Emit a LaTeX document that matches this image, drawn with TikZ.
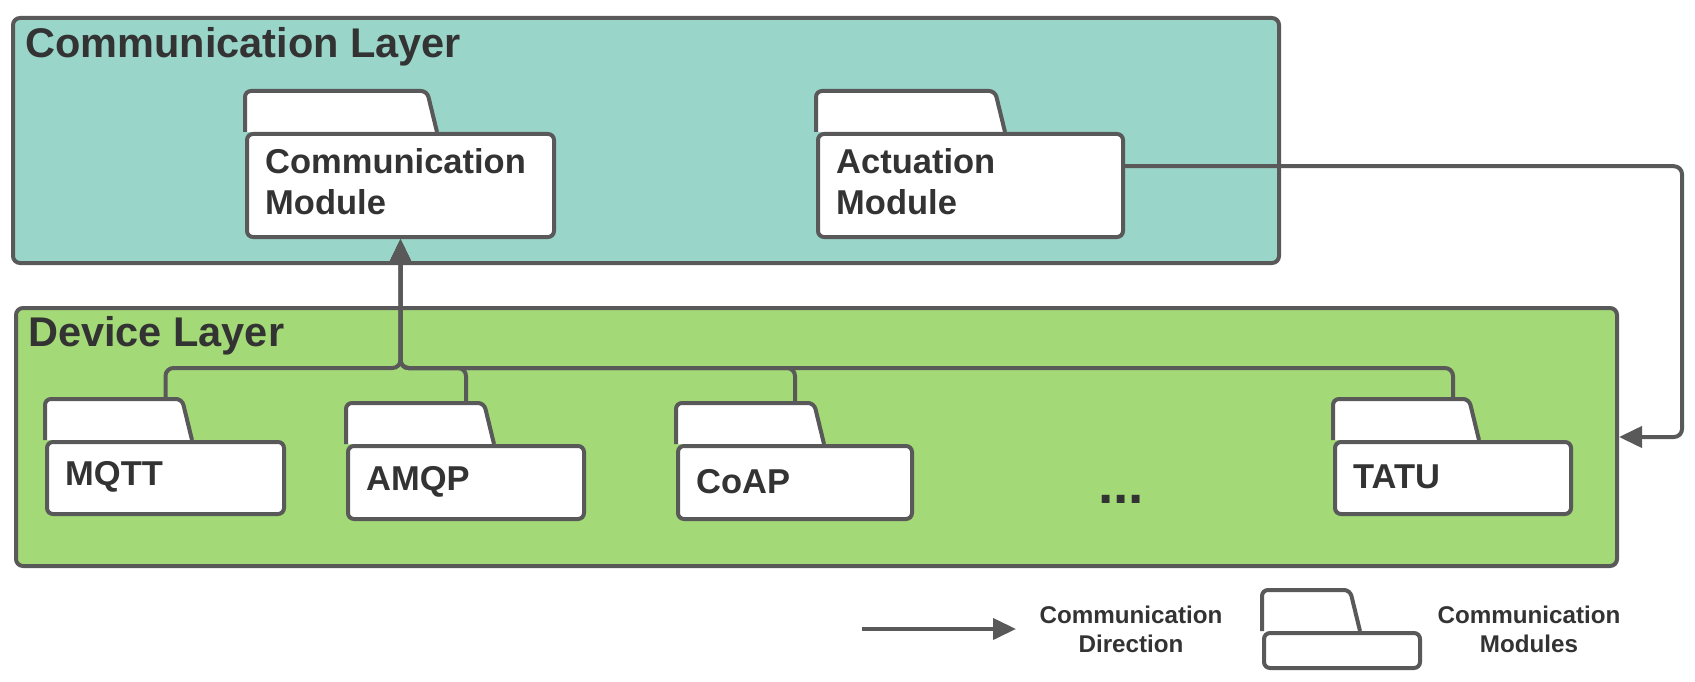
\documentclass[tikz,border=0pt]{standalone}
\usepackage{fontspec}
\setmainfont{Liberation Sans}
\usetikzlibrary{arrows.meta,calc}
\definecolor{lc}{HTML}{595959}
\definecolor{tc}{HTML}{333333}
\definecolor{commfill}{HTML}{9AD5CA}
\definecolor{devfill}{HTML}{A3D977}
\tikzset{
  layerbox/.style={draw=lc, line width=4pt, rounded corners=7pt, inner sep=0pt, anchor=north west},
  tabst/.style={draw=lc, fill=white, line width=4pt, rounded corners=6pt},
  fbody/.style={draw=lc, fill=white, line width=4pt, rounded corners=6pt, inner sep=0pt, anchor=north west},
  modtxt/.style={text=tc, font=\fontsize{34.5}{40.5}\selectfont\bfseries, align=left, inner sep=0pt, anchor=west},
  conn/.style={draw=lc, line width=4pt, rounded corners=8pt},
  tip/.style={-{Triangle[length=23pt,width=21pt]}},
  layerlbl/.style={font=\fontsize{41.5}{48}\selectfont\bfseries, text=tc, inner sep=0pt, anchor=base west},
  leglbl/.style={font=\fontsize{24.2}{29}\selectfont\bfseries, text=tc, inner sep=0pt, align=center},
}
% name, left x, body top y, width, height, tab width, text, text y offset
\newcommand\folderbox[8]{%
  \draw[tabst] (#2,#3) -- (#2,#3-41) -- (#2+#6-10,#3-41) -- (#2+#6,#3);
  \node[fbody, minimum width=#4pt, minimum height=#5pt] (#1) at (#2,#3) {};
  \node[modtxt] (#1-t) at ($(#1.west)+(20,#8)$) {#7};
}
\begin{document}
\begin{tikzpicture}[x=1pt,y=-1pt]
\useasboundingbox (0,0) rectangle (1695,682);
% layers
\node[layerbox, fill=commfill, minimum width=1266pt, minimum height=245pt] (cl) at (11,16) {};
\node[layerbox, fill=devfill, minimum width=1601pt, minimum height=258pt] (dl) at (14,306) {};
\node[layerlbl] (cltxt) at (25,58) {Communication Layer};
\node[layerlbl] (dltxt) at (28,346) {Device Layer};
% modules
\folderbox{cm}{245}{132}{307}{103}{192}{Communication\\Module}{-4}
\folderbox{am}{816}{132}{305}{103}{189}{Actuation\\Module}{-4}
\folderbox{mqtt}{45}{440}{237}{72}{147}{MQTT}{-1}
\folderbox{amqp}{346}{444}{236}{73}{148}{AMQP}{-1}
\folderbox{coap}{676}{444}{234}{73}{148}{CoAP}{-1}
\folderbox{tatu}{1333}{440}{236}{72}{146}{TATU}{-1}
\node[text=tc, font=\fontsize{55}{60}\selectfont\bfseries, inner sep=0pt, anchor=base] (dots) at (1121,503) {...};
% tab tops
\path (mqtt.north) ++(0,-41) coordinate (mqtt-top);
\path (amqp.north) ++(0,-41) coordinate (amqp-top);
\path (coap.north) ++(0,-41) coordinate (coap-top);
\path (tatu.north) ++(0,-41) coordinate (tatu-top);
\coordinate (busy) at (0,368);
\draw[conn, tip] (mqtt-top) -- (mqtt-top |- busy) -| (cm.south);
\draw[conn, tip] (amqp-top) -- (amqp-top |- busy) -| (cm.south);
\draw[conn, tip] (coap-top) -- (coap-top |- busy) -| (cm.south);
\draw[conn, tip] (tatu-top) -- (tatu-top |- busy) -| (cm.south);
\coordinate (am-out) at ($(am.north east)!0.32!(am.south east)$);
\draw[conn, tip] (am-out) -| ($(dl.east)+(63,0)$) -- (dl.east);
% legend
\coordinate (legA) at (862,629);
\coordinate (legB) at (1016,629);
\draw[conn, tip] (legA) -- (legB);
\node[leglbl] (legdir) at (1131,629) {Communication\\Direction};
\folderbox{legf}{1262}{631}{156}{35}{98}{}{0}
\node[leglbl] (legmod) at (1529,629) {Communication\\Modules};
\end{tikzpicture}
\end{document}
